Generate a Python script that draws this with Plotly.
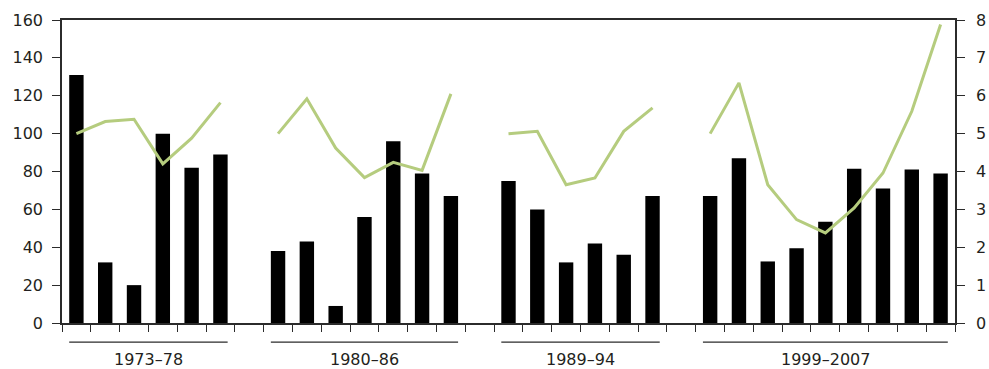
import plotly.graph_objects as go

# ---- data ----
group_labels = ["1973–78", "1980–86", "1989–94", "1999–2007"]
group_years = [
    ["1973", "1974", "1975", "1976", "1977", "1978"],
    ["1980", "1981", "1982", "1983", "1984", "1985", "1986"],
    ["1989", "1990", "1991", "1992", "1993", "1994"],
    ["1999", "2000", "2001", "2002", "2003", "2004", "2005", "2006", "2007"],
]
gap_labels = ["1979", "1987–88", "1995–98"]
bar_values = [
    [131, 32, 20, 100, 82, 89],
    [38, 43, 9, 56, 96, 79, 67],
    [75, 60, 32, 42, 36, 67],
    [67, 87, 32.5, 39.5, 53.5, 81.5, 71, 81, 79],
]
line_values = [
    [5.0, 5.32, 5.38, 4.2, 4.88, 5.82],
    [5.0, 5.92, 4.62, 3.84, 4.24, 4.03, 6.05],
    [5.0, 5.06, 3.65, 3.83, 5.06, 5.68],
    [5.0, 6.34, 3.65, 2.73, 2.38, 3.04, 3.96, 5.59, 7.88],
]
left_ticks = [0, 20, 40, 60, 80, 100, 120, 140, 160]
right_ticks = [0, 1, 2, 3, 4, 5, 6, 7, 8]

# ---- build category sequence with empty gap slots ----
cats, bars, lines, spans = [], [], [], []
for gi, yrs in enumerate(group_years):
    start = len(cats)
    cats += yrs
    bars += bar_values[gi]
    lines += line_values[gi]
    spans.append((start, len(cats) - 1))
    if gi < len(gap_labels):
        cats.append(gap_labels[gi])
        bars.append(None)
        lines.append(None)

AXIS = "#2b2b2b"
GREEN = "#b5cc7e"
FONT = dict(family="DejaVu Sans, sans-serif", size=16, color="#231f20")

fig = go.Figure()
fig.add_trace(go.Bar(x=cats, y=bars, marker=dict(color="black", line=dict(width=0)),
                     width=0.5, yaxis="y", showlegend=False))
fig.add_trace(go.Scatter(x=cats, y=lines, mode="lines", line=dict(color=GREEN, width=3),
                         connectgaps=False, yaxis="y2", showlegend=False))

shapes, annotations = [], []
for gi, (s, e) in enumerate(spans):
    shapes.append(dict(type="line", xref="x", yref="paper", x0=s - 0.25, x1=e + 0.25,
                       y0=-0.063, y1=-0.063, line=dict(color=AXIS, width=1.3)))
    annotations.append(dict(xref="x", yref="paper", x=(s + e) / 2, y=-0.122,
                            text=group_labels[gi], showarrow=False, yanchor="middle",
                            font=FONT))

fig.update_layout(
    width=989, height=369,
    margin=dict(l=62, r=34, t=20, b=46, autoexpand=False),
    paper_bgcolor="white", plot_bgcolor="white",
    bargap=0.5,
    font=FONT,
    hovermode=False,
    shapes=shapes, annotations=annotations,
    xaxis=dict(type="category", categoryorder="array", categoryarray=cats,
               range=[-0.5, len(cats) - 0.5], showticklabels=False,
               showline=True, linecolor=AXIS, linewidth=1.5, mirror=True,
               ticks="outside", tickson="boundaries", ticklen=7, tickwidth=1.3,
               tickcolor=AXIS, showgrid=False, zeroline=False),
    yaxis=dict(range=[0, 160], tickvals=left_ticks, showline=True, linecolor=AXIS,
               linewidth=1.5, ticks="outside", ticklen=8, tickwidth=1.3, tickcolor=AXIS,
               showgrid=False, zeroline=False, tickfont=FONT, ticklabelstandoff=6),
    yaxis2=dict(range=[0, 8], tickvals=right_ticks, overlaying="y", side="right",
                showline=True, linecolor=AXIS, linewidth=1.5, ticks="outside",
                ticklen=8, tickwidth=1.3, tickcolor=AXIS, showgrid=False,
                zeroline=False, tickfont=FONT, ticklabelstandoff=8),
)

fig.write_html(
    "out.html",
    config={"displayModeBar": False},
    post_script="document.body.style.margin='0';document.documentElement.style.overflow='hidden';",
)
